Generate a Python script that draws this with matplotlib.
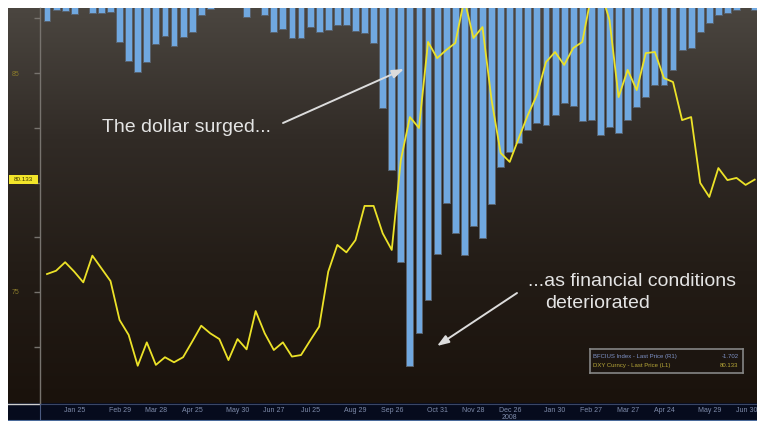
import numpy as np
import pandas as pd
import matplotlib
matplotlib.use("Agg")
import matplotlib.pyplot as plt
import matplotlib.dates as mdates
from matplotlib.colors import LinearSegmentedColormap
from matplotlib.transforms import blended_transform_factory, ScaledTranslation
from matplotlib.patches import Rectangle

plt.rcParams["font.family"] = ["Liberation Sans", "DejaVu Sans"]

# weekly closes, Fridays, Jan 2008 - Jul 2009
weeks = pd.date_range("2008-01-04", periods=79, freq="W-FRI")

# DXY Curncy (left axis)
dxy = [
    75.82, 75.97, 76.36, 75.93, 75.44, 76.66, 76.08, 75.50, 73.72, 73.04,
    71.63, 72.70, 71.67, 72.02, 71.79, 72.02, 72.73, 73.46, 73.11, 72.85,
    71.89, 72.85, 72.38, 74.13, 73.11, 72.35, 72.70, 72.05, 72.12, 72.78,
    73.42, 75.93, 77.15, 76.81, 77.37, 78.93, 78.93, 77.68, 76.92, 81.03,
    82.99, 82.49, 86.42, 85.68, 86.05, 86.37, 88.38, 86.60, 87.10, 83.77,
    81.35, 80.94, 82.03, 83.08, 84.00, 85.50, 85.96, 85.37, 86.14, 86.42,
    88.56, 88.79, 87.42, 83.90, 85.14, 84.22, 85.91, 85.96, 84.77, 84.59,
    82.85, 82.99, 79.98, 79.34, 80.66, 80.11, 80.21, 79.89, 80.133,
]

# BFCIUS Index (right axis, hidden)
bfci = [
    -2.01, -1.71, -1.73, -1.82, -1.50, -1.79, -1.79, -1.76, -2.59, -3.12,
    -3.43, -3.15, -2.65, -2.43, -2.71, -2.46, -2.32, -1.84, -1.68, -1.30,
    -1.20, -1.40, -1.90, -1.50, -1.84, -2.32, -2.23, -2.48, -2.48, -2.18,
    -2.32, -2.26, -2.12, -2.12, -2.29, -2.35, -2.62, -4.43, -6.15, -8.71,
    -11.59, -10.68, -9.76, -8.48, -7.07, -7.90, -8.51, -7.71, -8.04, -7.09,
    -6.07, -5.65, -5.40, -5.04, -4.84, -4.90, -4.62, -4.29, -4.37, -4.79,
    -4.76, -5.18, -4.96, -5.12, -4.76, -4.40, -4.12, -3.79, -3.79, -3.37,
    -2.82, -2.76, -2.32, -2.07, -1.84, -1.79, -1.71, -1.60, -1.702,
]

tick_dates = ["2008-01-25", "2008-02-29", "2008-03-28", "2008-04-25", "2008-05-30",
              "2008-06-27", "2008-07-25", "2008-08-29", "2008-09-26", "2008-10-31",
              "2008-11-28", "2008-12-26", "2009-01-30", "2009-02-27", "2009-03-27",
              "2009-04-24", "2009-05-29", "2009-06-30"]
tick_labels = ["Jan 25", "Feb 29", "Mar 28", "Apr 25", "May 30", "Jun 27", "Jul 25",
               "Aug 29", "Sep 26", "Oct 31", "Nov 28", "Dec 26", "Jan 30", "Feb 27",
               "Mar 27", "Apr 24", "May 29", "Jun 30"]

W, H = 757, 423
fig = plt.figure(figsize=(W / 100, H / 100), dpi=100, facecolor="white")


def box(x0, y0, x1, y1):
    # pixel box (top-left origin) -> figure fraction rect
    return [x0 / W, (H - y1) / H, (x1 - x0) / W, (y1 - y0) / H]


def bare(a):
    a.set_xticks([])
    a.set_yticks([])
    for s in a.spines.values():
        s.set_visible(False)


# dark gradient backdrop
bg = fig.add_axes(box(8, 8, W, 403), zorder=0)
grad = LinearSegmentedColormap.from_list("bb", ["#4b4640", "#312b26", "#231c16", "#1a120c"])
bg.imshow(np.linspace(0, 1, 256).reshape(-1, 1), aspect="auto", cmap=grad,
          extent=[0, 1, 0, 1])
bg.set_axis_off()

# navy date strip
band = fig.add_axes(box(8, 403, W, 421), zorder=0)
band.set_facecolor("#060b1d")
band.set_xlim(8, W)
band.set_ylim(421, 403)
band.plot([8, 40], [403.6, 403.6], color="#cfcfcf", lw=1)
band.plot([40, W], [403.6, 403.6], color="#3a4666", lw=0.8)
band.plot([40, 40], [403, 421], color="#4a5a80", lw=0.8)
band.plot([8, W], [420.4, 420.4], color="#4a6a9a", lw=0.8)
bare(band)

ax = fig.add_axes(box(40, 8, W, 403), zorder=3)
ax2 = ax.twinx()
ax2.set_zorder(2)
ax.patch.set_visible(False)
ax2.patch.set_visible(False)

ax2.bar(weeks, bfci, width=5.3, color="#70a8e0", edgecolor="#58626e", linewidth=0.7)
ax2.set_ylim(-12.62, -1.65)
ax2.set_yticks([])
for s in ax2.spines.values():
    s.set_visible(False)

ax.plot(weeks, dxy, color="#ece228", lw=1.3)
ax.set_ylim(69.93, 87.97)
ax.set_xlim(mdates.date2num(pd.Timestamp("2008-01-04")) - 5.4,
            mdates.date2num(pd.Timestamp("2008-01-04")) + 547.8)

ax.set_yticks([72.5, 75, 77.5, 80, 82.5, 85, 87.5])
ax.set_yticklabels(["", "75", "", "", "", "85", ""])
ax.tick_params(axis="y", direction="out", length=4, width=1, color="#77736e",
               labelcolor="#8a7a2a", labelsize=5, pad=11)

ax.set_xticks(pd.to_datetime(tick_dates))
ax.set_xticklabels(tick_labels)
ax.tick_params(axis="x", length=0, labelsize=5, labelcolor="#7f8cab", pad=3)
last = ax.get_xticklabels()[-1]
last.set_transform(last.get_transform() + ScaledTranslation(-4 / 100, 0, fig.dpi_scale_trans))

for name, s in ax.spines.items():
    s.set_visible(name == "left")
ax.spines["left"].set_color("#77736e")
ax.spines["left"].set_linewidth(1)

ax.text(pd.Timestamp("2008-12-26"), -0.036, "2008", transform=blended_transform_factory(
    ax.transData, ax.transAxes), ha="center", va="center", fontsize=5, color="#7f8cab")

# last-price marker on the left axis
trans = blended_transform_factory(ax.transAxes, ax.transData)
ax.add_patch(Rectangle((-31 / 717, dxy[-1] - 0.2), 29 / 717, 0.4, transform=trans,
                       facecolor="#f2e52a", edgecolor="none", clip_on=False, zorder=5))
ax.text(-17 / 717, dxy[-1], f"{dxy[-1]:.3f}", transform=trans, ha="center", va="center",
        fontsize=4.5, color="#3a3400", zorder=6, clip_on=False)

# annotations
fig.text(102 / W, 1 - 128 / H, "The dollar surged...", fontsize=14, color="#e4e4e4",
         va="center", ha="left", zorder=10)
fig.text(528 / W, 1 - 281 / H, "...as financial conditions", fontsize=14, color="#e4e4e4",
         va="center", ha="left", zorder=10)
fig.text(545 / W, 1 - 303 / H, "deteriorated", fontsize=14, color="#e4e4e4",
         va="center", ha="left", zorder=10)

arrow = dict(arrowstyle="-|>,head_length=0.7,head_width=0.25", color="#dcdcdc", lw=1.4,
             shrinkA=0, shrinkB=0)
ax.annotate("", xy=(404, H - 69), xytext=(283, H - 123), xycoords="figure pixels",
            textcoords="figure pixels", arrowprops=arrow, zorder=10)
ax.annotate("", xy=(437, H - 346), xytext=(517, H - 293), xycoords="figure pixels",
            textcoords="figure pixels", arrowprops=arrow, zorder=10)

# series legend box
leg = fig.add_axes(box(590, 349, 743, 373), zorder=4)
leg.set_facecolor("#1c1510")
leg.set_xticks([])
leg.set_yticks([])
for s in leg.spines.values():
    s.set_color("#858585")
    s.set_linewidth(1.2)
leg.text(0.02, 0.7, "BFCIUS Index - Last Price (R1)", fontsize=4.3, color="#7f93c8",
         va="center", ha="left", transform=leg.transAxes)
leg.text(0.97, 0.7, f"{bfci[-1]:.3f}", fontsize=4.3, color="#7f93c8",
         va="center", ha="right", transform=leg.transAxes)
leg.text(0.02, 0.3, "DXY Curncy - Last Price (L1)", fontsize=4.3, color="#b8a838",
         va="center", ha="left", transform=leg.transAxes)
leg.text(0.97, 0.3, f"{dxy[-1]:.3f}", fontsize=4.3, color="#b8a838",
         va="center", ha="right", transform=leg.transAxes)

fig.savefig("out.png", dpi=100, facecolor="white")
